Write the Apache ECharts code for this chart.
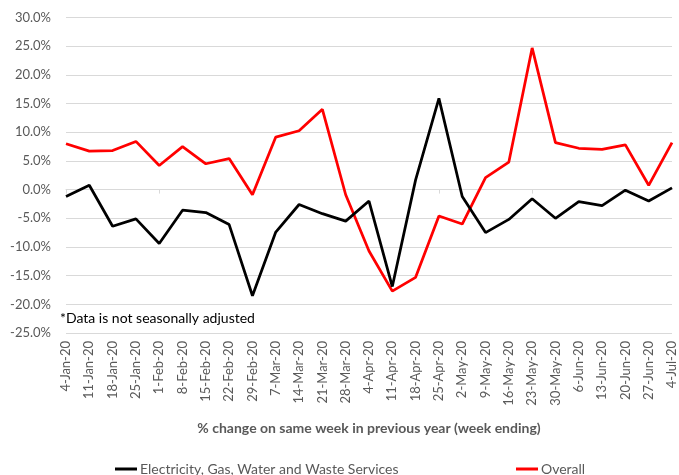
<!DOCTYPE html>
<html>
<head>
<meta charset="utf-8">
<script src="https://cdn.jsdelivr.net/npm/echarts@6/dist/echarts.min.js"></script>
<style>
  html, body { margin: 0; padding: 0; background: #fff; }
  #chart { width: 679px; height: 475px; }
</style>
</head>
<body>
<div id="chart"></div>
<script>
// Week-ending dates
const weeks = ['4-Jan-20','11-Jan-20','18-Jan-20','25-Jan-20','1-Feb-20','8-Feb-20','15-Feb-20',
  '22-Feb-20','29-Feb-20','7-Mar-20','14-Mar-20','21-Mar-20','28-Mar-20','4-Apr-20','11-Apr-20',
  '18-Apr-20','25-Apr-20','2-May-20','9-May-20','16-May-20','23-May-20','30-May-20','6-Jun-20',
  '13-Jun-20','20-Jun-20','27-Jun-20','4-Jul-20'];

// % change on same week in previous year
const utilities = [-1.2, 0.75, -6.4, -5.1, -9.4, -3.6, -4.0, -6.1, -18.5, -7.4, -2.6, -4.2, -5.5,
  -2.0, -16.9, 1.7, 15.9, -1.2, -7.5, -5.2, -1.6, -5.0, -2.1, -2.8, -0.1, -2.0, 0.3];
const overall = [8.0, 6.7, 6.8, 8.4, 4.2, 7.5, 4.5, 5.4, -0.9, 9.15, 10.25, 14.0, -0.9,
  -10.7, -17.7, -15.3, -4.6, -6.0, 2.1, 4.8, 24.7, 8.2, 7.2, 7.0, 7.8, 0.75, 8.2];

const yMin = -25, yMax = 30, yStep = 5;
const seriesNames = ['Electricity, Gas, Water and Waste Services', 'Overall'];

const FONT = 'Lato';
const GREY = '#595959';

const chart = echarts.init(document.getElementById('chart'), null, { renderer: 'canvas' });
chart.setOption({
  animation: false,
  textStyle: { fontFamily: FONT },
  grid: { left: 66, right: 7, top: 17.5, bottom: 142, containLabel: false },
  xAxis: [
    {
      type: 'category',
      data: weeks,
      boundaryGap: false,
      position: 'bottom',
      axisLine: { show: false, onZero: false },
      axisTick: { show: false },
      axisLabel: { rotate: 90, margin: 8, fontSize: 13, color: GREY, fontFamily: FONT },
      name: '% change on same week in previous year (week ending)',
      nameLocation: 'middle',
      nameGap: 88,
      nameTextStyle: { fontSize: 14, fontWeight: 'bold', color: GREY, fontFamily: FONT }
    },
    {
      // zero line with week ticks
      type: 'category',
      data: weeks,
      boundaryGap: false,
      position: 'bottom',
      axisLine: { show: true, onZero: true, lineStyle: { color: '#d9d9d9', width: 1 } },
      axisTick: { show: true, length: 4, lineStyle: { color: '#d9d9d9' } },
      axisLabel: { show: false }
    }
  ],
  yAxis: {
    type: 'value',
    min: yMin, max: yMax, interval: yStep,
    axisLine: { show: false },
    axisTick: { show: false },
    splitLine: { lineStyle: { color: '#d9d9d9', width: 1 } },
    axisLabel: {
      fontSize: 13, color: GREY, margin: 15, fontFamily: FONT,
      formatter: v => v.toFixed(1) + '%'
    }
  },
  legend: [
    {
      data: [seriesNames[0]],
      left: 110, top: 457,
      icon: 'rect', itemWidth: 22, itemHeight: 3,
      textStyle: { fontSize: 14, color: GREY, fontFamily: FONT, padding: [0, 0, 0, -2] }
    },
    {
      data: [seriesNames[1]],
      left: 511, top: 457,
      icon: 'rect', itemWidth: 22, itemHeight: 3,
      textStyle: { fontSize: 14, color: GREY, fontFamily: FONT, padding: [0, 0, 0, -2] }
    }
  ],
  graphic: [
    {
      type: 'text',
      left: 60, top: 311,
      style: { text: '*Data is not seasonally adjusted', fontSize: 14, fill: '#000', fontFamily: FONT }
    }
  ],
  series: [
    {
      name: seriesNames[0],
      type: 'line',
      xAxisIndex: 0,
      data: utilities,
      symbol: 'none',
      lineStyle: { color: '#000000', width: 2.75 },
      itemStyle: { color: '#000000' },
      z: 3
    },
    {
      name: seriesNames[1],
      type: 'line',
      xAxisIndex: 0,
      data: overall,
      symbol: 'none',
      lineStyle: { color: '#ff0000', width: 2.75 },
      itemStyle: { color: '#ff0000' },
      z: 2
    }
  ]
});
</script>
</body>
</html>
